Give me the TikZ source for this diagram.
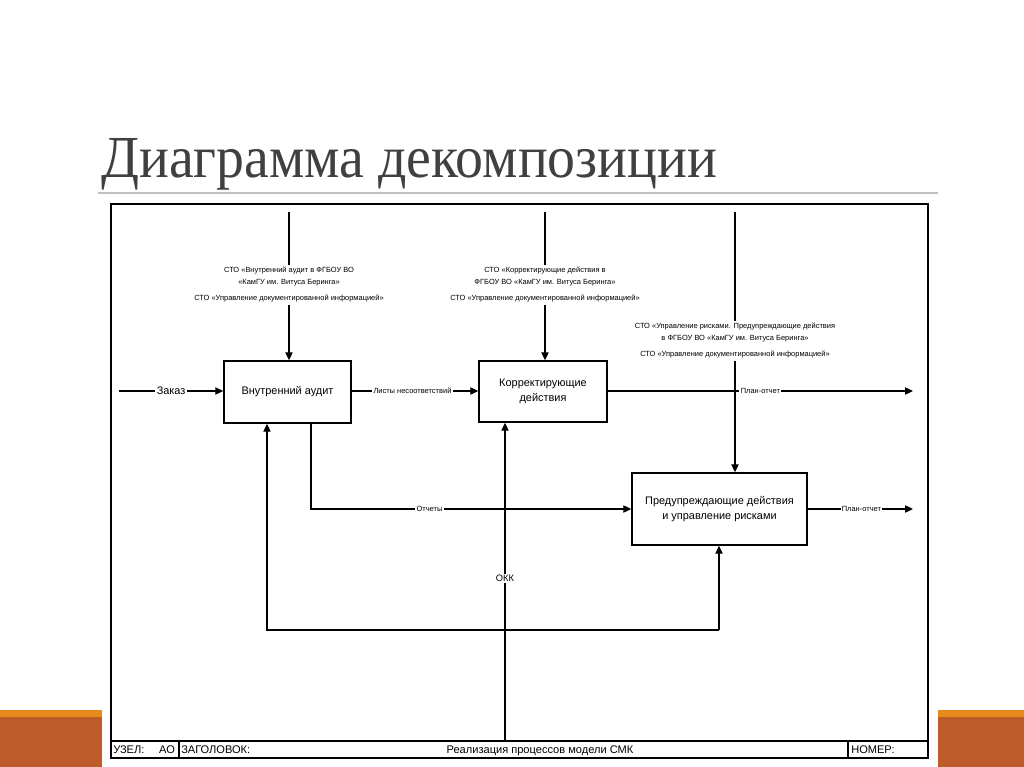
\documentclass[tikz,border=0pt]{standalone}
\usepackage{fontspec}
\setmainfont{Liberation Sans}
\newfontfamily\titlefont{Liberation Serif}
\usetikzlibrary{arrows.meta}
\definecolor{orangeA}{HTML}{E8891C}
\definecolor{orangeB}{HTML}{BE5B2B}
\definecolor{titlegray}{HTML}{404040}
\definecolor{rulegray}{HTML}{C0C0C0}
\tikzset{
  proc/.style={draw, line width=1.1pt, inner sep=0pt, align=center,
    font=\fontsize{8.2}{11}\selectfont},
  arr/.style={line width=0.8pt, -{Triangle[length=6pt,width=5.5pt]}},
  ln/.style={line width=0.8pt},
  lbl/.style={fill=white, inner sep=1pt, font=\fontsize{5.6}{7}\selectfont},
  biglbl/.style={fill=white, inner sep=1pt, font=\fontsize{8.2}{10}\selectfont},
  ctl/.style={fill=white, inner sep=2pt, align=center, font=\fontsize{5.6}{9}\selectfont},
  tb/.style={inner sep=0pt, anchor=base, font=\fontsize{8.3}{9}\selectfont}
}
\begin{document}
\begin{tikzpicture}[x=0.75pt,y=-0.75pt]
\useasboundingbox (0,0) rectangle (1024,767);
\fill[white] (0,0) rectangle (1024,767);
% side bars
\fill[orangeB] (0,710) rectangle (102,767);
\fill[orangeA] (0,710) rectangle (102,717);
\fill[orangeB] (938,710) rectangle (1024,767);
\fill[orangeA] (938,710) rectangle (1024,717);
% title
\node[anchor=base west, text=titlegray, inner sep=0pt] (title) at (101,177)
  {\resizebox{462pt}{1.04\height}{\titlefont\fontsize{43}{43}\selectfont Диаграмма декомпозиции}};
\draw[rulegray, line width=1.2pt] (98,193) -- (938,193);
% frame
\draw[line width=1.1pt] (111,204) rectangle (928,758);
\draw[line width=1pt] (111,741) -- (928,741);
\draw[line width=0.8pt] (179,741) -- (179,758);
\draw[line width=0.8pt] (848,741) -- (848,758);
\node[tb, anchor=base west] (uzel) at (113,753) {УЗЕЛ:};
\node[tb] (ao) at (167,753) {АО};
\node[tb, anchor=base west] (zag) at (181,753) {ЗАГОЛОВОК:};
\node[tb] (name) at (540,753) {Реализация процессов модели СМК};
\node[tb, anchor=base west] (nomer) at (851,753) {НОМЕР:};
% boxes
\node[proc, minimum width=95.25pt, minimum height=46.5pt] (b1) at (287.5,392) {Внутренний аудит};
\node[proc, minimum width=96pt, minimum height=45.75pt] (b2) at (543,391.5) {Корректирующие\\действия};
\node[proc, minimum width=131.25pt, minimum height=54pt] (b3) at (719.5,509) {Предупреждающие действия\\и управление рисками};
% inputs / outputs
\coordinate (in1) at (119,391);
\draw[arr] (in1) -- node[biglbl, pos=0.5]{Заказ} (b1.west |- in1);
\draw[arr] (b1.east |- in1) -- node[lbl, pos=0.48]{Листы несоответствий} (b2.west |- in1);
\coordinate (out1) at (913,391);
\draw[arr] (b2.east |- out1) -- node[lbl, pos=0.5]{План-отчет} (out1);
\coordinate (out2) at (913,509);
\draw[arr] (b3.east) -- node[lbl, pos=0.51]{План-отчет} (out2);
% controls
\coordinate (c1) at (289,212);
\node[ctl] (c1l) at (289,285) {СТО «Внутренний аудит в ФГБОУ ВО\\«КамГУ им. Витуса Беринга»\\[3pt]СТО «Управление документированной информацией»};
\draw[ln] (c1) -- (c1l.north -| c1);
\draw[arr] (c1l.south -| c1) -- (b1.north -| c1);
\coordinate (c2) at (545,212);
\node[ctl] (c2l) at (545,285) {СТО «Корректирующие действия в\\ФГБОУ ВО «КамГУ им. Витуса Беринга»\\[3pt]СТО «Управление документированной информацией»};
\draw[ln] (c2) -- (c2l.north -| c2);
\draw[arr] (c2l.south -| c2) -- (b2.north -| c2);
\coordinate (c3) at (735,212);
\node[ctl] (c3l) at (735,341) {СТО «Управление рисками. Предупреждающие действия\\в ФГБОУ ВО «КамГУ им. Витуса Беринга»\\[3pt]СТО «Управление документированной информацией»};
\draw[ln] (c3) -- (c3l.north -| c3);
\draw[arr] (c3l.south -| c3) -- (b3.north -| c3);
% reports
\coordinate (rep) at (311,509);
\draw[arr] (b1.south -| rep) -- (rep) -- node[lbl, pos=0.37]{Отчеты} (b3.west);
% mechanism
\coordinate (okk) at (505,741);
\draw[arr] (okk) -- node[biglbl, pos=0.51, font=\fontsize{7}{8}\selectfont]{ОКК} (b2.south -| okk);
\coordinate (fbL) at (267,630);
\coordinate (fbR) at (719,630);
\draw[arr] (fbR) -- (fbL) -- (b1.south -| fbL);
\draw[arr] (fbR) -- (b3.south -| fbR);
\end{tikzpicture}
\end{document}
